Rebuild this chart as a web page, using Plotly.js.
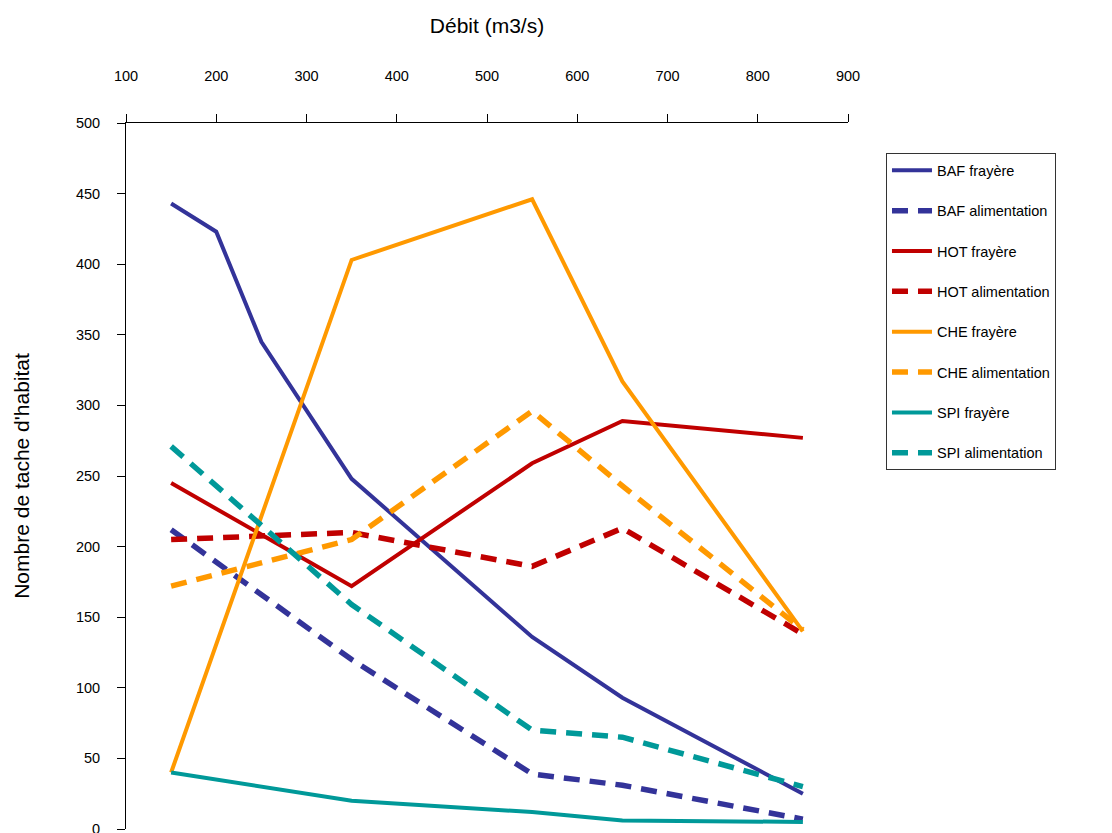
<!DOCTYPE html>
<html>
<head>
<meta charset="utf-8">
<script src="https://cdn.plot.ly/plotly-3.0.1.min.js"></script>
<style>html,body{margin:0;padding:0;background:#fff;}#chart{width:1112px;height:833px;}</style>
</head>
<body>
<div id="chart"></div>
<script>
// Débit values (m3/s)
const debitFull = [150, 200, 250, 350, 550, 650, 850];
const debit = [150, 350, 550, 650, 850];

const seriesNames = ["BAF frayère", "BAF alimentation", "HOT frayère", "HOT alimentation",
                     "CHE frayère", "CHE alimentation", "SPI frayère", "SPI alimentation"];

const bafFrayere = [443, 423, 345, 248, 136, 93, 25];
const bafAlimentation = [212, 120, 39, 31, 7];
const hotFrayere = [245, 172, 259, 289, 277];
const hotAlimentation = [205, 210, 186, 213, 138];
const cheFrayere = [40, 403, 446, 317, 140];
const cheAlimentation = [172, 205, 296, 243, 141];
const spiFrayere = [40, 20, 12, 6, 5];
const spiAlimentation = [271, 159, 70, 65, 30];

const xTicks = [100, 200, 300, 400, 500, 600, 700, 800, 900];
const yTicks = [0, 50, 100, 150, 200, 250, 300, 350, 400, 450, 500];

const cBAF = "#333399", cHOT = "#C00000", cCHE = "#FF9900", cSPI = "#009999";
const DASH = "16px,10px";

function tr(name, x, y, color, dashed, i) {
  return {
    type: "scatter", mode: "lines", name: name, x: x, y: y,
    legendgroup: "g" + i,
    line: {color: color, width: dashed ? 5.5 : 4, dash: dashed ? DASH : "solid"},
    hoverinfo: "skip"
  };
}

const data = [
  tr(seriesNames[0], debitFull, bafFrayere, cBAF, false, 0),
  tr(seriesNames[1], debit, bafAlimentation, cBAF, true, 1),
  tr(seriesNames[2], debit, hotFrayere, cHOT, false, 2),
  tr(seriesNames[3], debit, hotAlimentation, cHOT, true, 3),
  tr(seriesNames[4], debit, cheFrayere, cCHE, false, 4),
  tr(seriesNames[5], debit, cheAlimentation, cCHE, true, 5),
  tr(seriesNames[6], debit, spiFrayere, cSPI, false, 6),
  tr(seriesNames[7], debit, spiAlimentation, cSPI, true, 7)
];

const fontFam = "Liberation Sans, Arial, sans-serif";

const layout = {
  width: 1112, height: 833,
  margin: {l: 126, r: 264, t: 122.5, b: 3.7, pad: 0},
  paper_bgcolor: "#ffffff", plot_bgcolor: "#ffffff",
  font: {family: fontFam, color: "#000000", size: 14},
  showlegend: true,
  legend: {
    x: 1.0526, y: 0.957, xanchor: "left", yanchor: "top",
    bordercolor: "#333333", borderwidth: 1, bgcolor: "#ffffff",
    font: {family: fontFam, size: 14.5, color: "#000"},
    tracegroupgap: 18.5, itemwidth: 40, traceorder: "grouped",
    entrywidth: 218, entrywidthmode: "pixels"
  },
  xaxis: {
    side: "top", range: [100, 900], tickvals: xTicks, ticktext: xTicks.map(String),
    showgrid: false, zeroline: false, showline: true, linecolor: "#000", linewidth: 1,
    ticks: "outside", ticklen: 8, tickcolor: "#000", tickwidth: 1,
    ticklabelstandoff: 27, tickfont: {size: 14.5}, ticklabeloverflow: "allow",
    title: {text: "Débit (m3/s)", font: {size: 21}, standoff: 28},
    automargin: false, fixedrange: true
  },
  yaxis: {
    range: [0, 500], tickvals: yTicks, ticktext: yTicks.map(String),
    showgrid: false, zeroline: false, showline: true, linecolor: "#000", linewidth: 1,
    ticks: "outside", ticklen: 8, tickcolor: "#000", tickwidth: 1,
    ticklabelstandoff: 14, tickfont: {size: 14.5}, ticklabeloverflow: "allow",
    title: {text: "Nombre de tache d'habitat", font: {size: 21}, standoff: 40},
    automargin: false, fixedrange: true
  }
};

Plotly.newPlot("chart", data, layout, {displayModeBar: false, staticPlot: true});
</script>
</body>
</html>
